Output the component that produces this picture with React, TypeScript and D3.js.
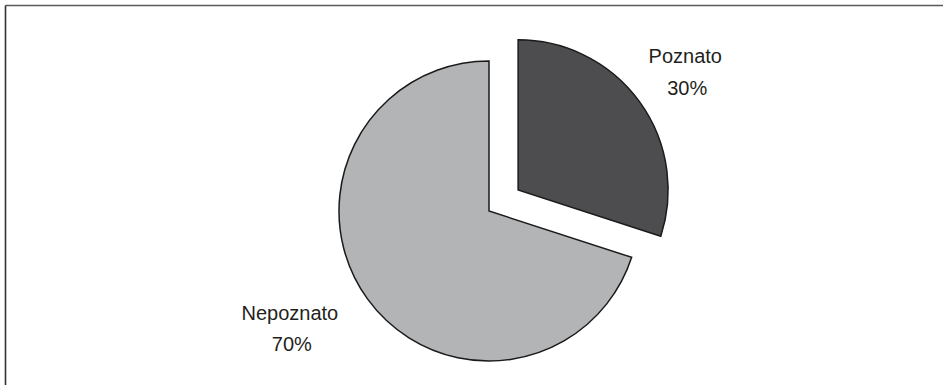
import React from "react";
import * as d3 from "d3";

const categories = ["Poznato", "Nepoznato"];
const values = [30, 70];
const percentLabels = ["30%", "70%"];
const colors = ["#4d4d4f", "#b3b4b6"];
const exploded = [true, false];

const W = 943;
const H = 385;
const cx = 489;
const cy = 211;
const radius = 150;
const explodeDist = 36;
const labelRadius = 214;
const labelNudge = [
  [-6, -1],
  [-26, -17],
];

export default function App() {
  const pie = d3
    .pie<number>()
    .sort(null)
    .startAngle(0)
    .endAngle(2 * Math.PI);
  const arcs = pie(values);
  const arc = d3.arc<d3.PieArcDatum<number>>().innerRadius(0).outerRadius(radius);

  return (
    <svg
      width={W}
      height={H}
      style={{ position: "absolute", left: 0, top: 0, background: "#fff" }}
      fontFamily="'Liberation Sans', Arial, sans-serif"
    >
      <rect x={0} y={0} width={W} height={H} fill="#fff" />
      <line x1={5.5} y1={5.5} x2={W} y2={5.5} stroke="#5a5a5a" strokeWidth={1.6} />
      <line x1={5.5} y1={5.5} x2={5.5} y2={H} stroke="#333" strokeWidth={1.6} />
      {arcs.map((a, i) => {
        const mid = (a.startAngle + a.endAngle) / 2;
        const ux = Math.sin(mid);
        const uy = -Math.cos(mid);
        const off = exploded[i] ? explodeDist : 0;
        const ox = cx + ux * off;
        const oy = cy + uy * off;
        const lx = ox + ux * labelRadius + labelNudge[i][0];
        const ly = oy + uy * labelRadius + labelNudge[i][1];
        return (
          <g key={categories[i]}>
            <path
              d={arc(a) || ""}
              transform={`translate(${ox},${oy})`}
              fill={colors[i]}
              stroke="#1a1a1a"
              strokeWidth={1.5}
              strokeLinejoin="miter"
            />
            <text
              x={lx}
              y={ly}
              textAnchor="middle"
              fontSize={20}
              fill="#231f20"
            >
              {categories[i]}
            </text>
            <text
              x={lx + 2}
              y={ly + 31.5}
              textAnchor="middle"
              fontSize={20}
              fill="#231f20"
            >
              {percentLabels[i]}
            </text>
          </g>
        );
      })}
    </svg>
  );
}
